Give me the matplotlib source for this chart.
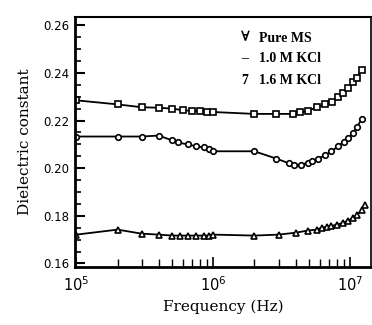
import numpy as np
import matplotlib.pyplot as plt
from matplotlib.ticker import FixedLocator, AutoMinorLocator

# frequencies (Hz) and dielectric constant
f_pure = [1.0e5, 2.0e5, 3.0e5, 4.0e5, 5.0e5, 6.0e5, 7.0e5, 8.0e5, 9.0e5, 1.0e6,
          2.0e6, 2.9e6, 3.8e6, 4.3e6, 4.9e6, 5.7e6, 6.6e6, 7.4e6, 8.2e6, 8.9e6,
          9.7e6, 1.05e7, 1.12e7, 1.22e7]
eps_pure = [0.2285, 0.2268, 0.2256, 0.2254, 0.2250, 0.2244, 0.2240, 0.2240, 0.2238, 0.2236,
            0.2228, 0.2228, 0.2228, 0.2234, 0.2240, 0.2256, 0.2268, 0.2280, 0.2300, 0.2316,
            0.2336, 0.2360, 0.2380, 0.2414]

f_10 = [1.0e5, 2.0e5, 3.0e5, 4.0e5, 5.0e5, 5.5e5, 6.5e5, 7.5e5, 8.5e5, 9.3e5, 1.0e6,
        2.0e6, 2.9e6, 3.6e6, 3.9e6, 4.4e6, 4.9e6, 5.3e6, 5.8e6, 6.6e6, 7.3e6, 8.2e6,
        9.0e6, 9.7e6, 1.05e7, 1.13e7, 1.22e7]
eps_10 = [0.2133, 0.2133, 0.2133, 0.2137, 0.2117, 0.2108, 0.2100, 0.2092, 0.2087, 0.2079, 0.2071,
          0.2071, 0.2040, 0.2020, 0.2013, 0.2015, 0.2022, 0.2030, 0.2040, 0.2054, 0.2071, 0.2092,
          0.2112, 0.2125, 0.2146, 0.2175, 0.2208]

f_16 = [1.0e5, 2.0e5, 3.0e5, 4.0e5, 5.0e5, 5.7e5, 6.5e5, 7.5e5, 8.5e5, 9.3e5, 1.0e6,
        2.0e6, 3.0e6, 4.0e6, 4.9e6, 5.7e6, 6.2e6, 6.8e6, 7.3e6, 8.0e6, 8.9e6,
        9.7e6, 1.05e7, 1.13e7, 1.22e7, 1.28e7]
eps_16 = [0.1721, 0.1742, 0.1725, 0.1721, 0.1717, 0.1717, 0.1717, 0.1717, 0.1717, 0.1717, 0.1721,
          0.1717, 0.1721, 0.1729, 0.1738, 0.1742, 0.1750, 0.1754, 0.1758, 0.1762, 0.1771,
          0.1779, 0.1792, 0.1804, 0.1825, 0.1846]

yticks = [0.16, 0.18, 0.20, 0.22, 0.24, 0.26]
ytick_labels = ["0.16", "0.18", "0.20", "0.22", "0.24", "0.26"]
xticks = [1e5, 1e6, 1e7]
xtick_labels = [r"$10^5$", r"$10^6$", r"$10^7$"]

legend_marks = ["\u2200", "\u2013", "7"]
legend_names = ["Pure MS", "1.0 M KCl", "1.6 M KCl"]

fig = plt.figure(figsize=(3.72, 3.25), dpi=100)
ax = fig.add_axes([75 / 372, 1 - 267 / 325, 296 / 372, 250 / 325])

mk = dict(mfc="white", mec="black", ms=4, mew=1.2, color="black", lw=1.3)
ax.plot(f_pure, eps_pure, marker="s", **mk)
ax.plot(f_10, eps_10, marker="o", **mk)
ax.plot(f_16, eps_16, marker="^", **mk)

ax.set_xscale("log")
ax.set_xlim(10 ** 4.99, 10 ** 7.153)
ax.set_ylim(0.1585, 0.2635)

ax.yaxis.set_major_locator(FixedLocator(yticks))
ax.set_yticklabels(ytick_labels)
ax.yaxis.set_minor_locator(AutoMinorLocator(4))
ax.set_xticks(xticks)
ax.set_xticklabels(xtick_labels)

ax.tick_params(axis="both", which="both", direction="in", top=False, right=False)
ax.tick_params(axis="y", which="major", length=7, width=1.5, labelsize=8.5, pad=4)
ax.tick_params(axis="y", which="minor", length=4, width=1.2)
ax.tick_params(axis="x", which="major", length=7, width=1.2, labelsize=10.5, pad=6)
ax.tick_params(axis="x", which="minor", length=6, width=1.0)

ax.spines["left"].set_linewidth(2.0)
ax.spines["bottom"].set_linewidth(2.0)
ax.spines["top"].set_linewidth(1.5)
ax.spines["right"].set_linewidth(1.2)

ax.set_ylabel("Dielectric constant", fontsize=11, family="DejaVu Serif", labelpad=8)
ax.set_xlabel("Frequency (Hz)", fontsize=11, family="DejaVu Serif", labelpad=4)

rows_y = [38, 59, 80]
for sym, name, py in zip(legend_marks, legend_names, rows_y):
    fig.text(245 / 372, 1 - py / 325, sym, fontsize=10, fontweight="bold",
             family=["Liberation Serif", "DejaVu Serif"], ha="center", va="center")
    fig.text(259 / 372, 1 - py / 325, name, fontsize=10, fontweight="bold",
             family="Liberation Serif", ha="left", va="center")

fig.savefig("out.png", dpi=100)
